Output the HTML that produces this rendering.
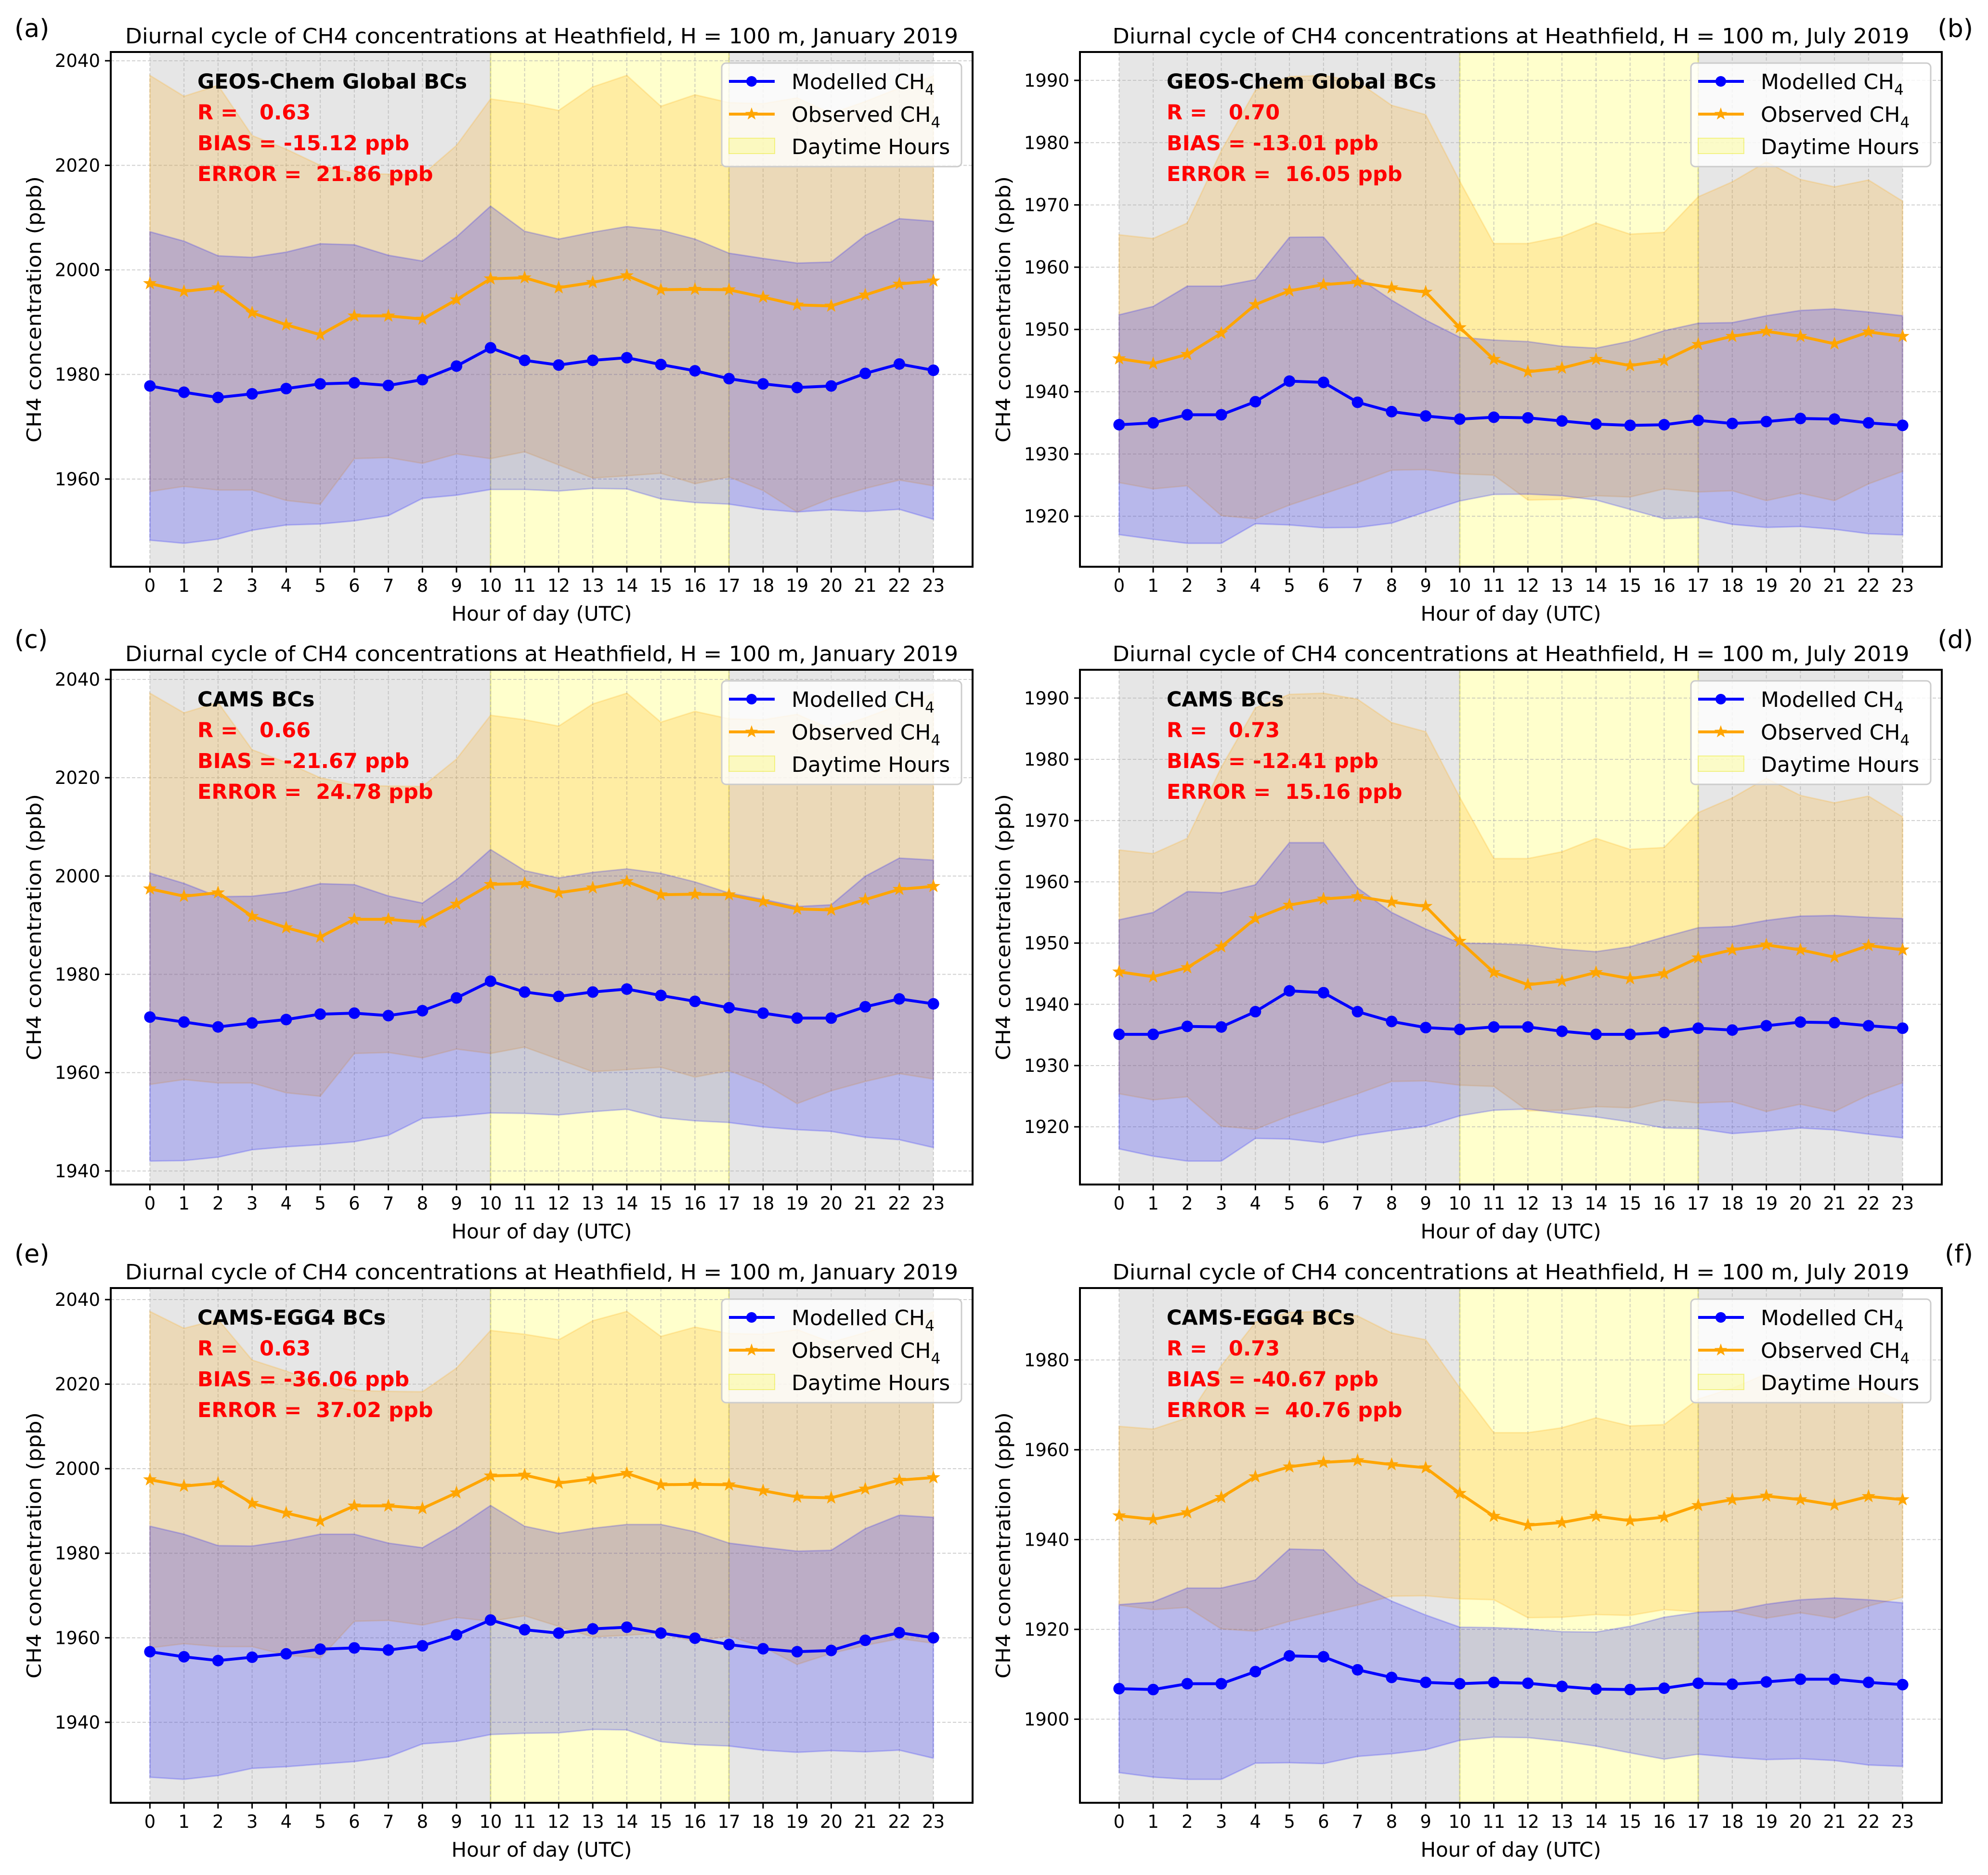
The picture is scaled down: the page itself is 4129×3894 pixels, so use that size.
<!DOCTYPE html>
<html><head><meta charset="utf-8">
<style>
html,body{margin:0;padding:0;background:#fff;}
svg{display:block;font-family:"DejaVu Sans","Liberation Sans",sans-serif;}
</style></head>
<body>
<svg id="fig" xmlns="http://www.w3.org/2000/svg" width="4129" height="3894" viewBox="0 0 4129 3894">
<rect x="0" y="0" width="4129" height="3894" fill="#fff"/>
</svg>
<script>
const hours = [0,1,2,3,4,5,6,7,8,9,10,11,12,13,14,15,16,17,18,19,20,21,22,23];
const xTickLabels = ["0","1","2","3","4","5","6","7","8","9","10","11","12","13","14","15","16","17","18","19","20","21","22","23"];
// January observed
const janObsMean = [1997.4,1995.9,1996.6,1991.8,1989.5,1987.6,1991.2,1991.2,1990.6,1994.3,1998.3,1998.5,1996.6,1997.6,1998.9,1996.2,1996.3,1996.2,1994.8,1993.3,1993.1,1995.2,1997.3,1997.9];
const janObsStd = [39.8,37.3,38.7,33.9,33.6,32.4,27.3,27.1,27.6,29.5,34.4,33.3,33.9,37.4,38.3,35.1,37.2,35.8,37.0,39.6,36.8,37.0,37.5,39.2];
// July observed
const julObsMean = [1945.3,1944.5,1946.0,1949.4,1954.0,1956.2,1957.2,1957.6,1956.7,1956.0,1950.3,1945.2,1943.2,1943.8,1945.2,1944.2,1945.0,1947.6,1948.9,1949.7,1948.9,1947.7,1949.6,1948.9];
const julObsStd = [19.9,20.1,21.1,29.3,34.4,34.4,33.6,32.2,29.3,28.5,23.5,18.6,20.6,21.1,21.9,21.1,20.6,23.7,24.8,27.2,25.2,25.2,24.4,21.7];
// (a) GEOS-Chem January
const modelMeanA = [1977.8,1976.6,1975.6,1976.3,1977.3,1978.2,1978.4,1977.9,1979.0,1981.6,1985.1,1982.7,1981.8,1982.7,1983.2,1981.9,1980.7,1979.2,1978.2,1977.5,1977.8,1980.2,1982.0,1980.8];
const modelStdA = [29.5,28.9,27.1,26.1,26.1,26.8,26.4,24.9,22.7,24.7,27.1,24.7,24.1,24.5,25.1,25.7,25.2,24.0,24.0,23.8,23.7,26.4,27.8,28.5];
// (b) GEOS-Chem July
const modelMeanB = [1934.7,1935.0,1936.3,1936.3,1938.4,1941.7,1941.5,1938.3,1936.8,1936.1,1935.6,1935.9,1935.8,1935.3,1934.8,1934.6,1934.7,1935.4,1934.9,1935.2,1935.7,1935.6,1935.0,1934.6];
const modelStdB = [17.65,18.7,20.65,20.65,19.6,23.1,23.35,20.1,17.9,15.4,13.15,12.4,12.25,12.0,12.2,13.5,15.1,15.6,16.2,17.0,17.35,17.7,17.8,17.6];
// (c) CAMS January
const modelMeanC = [1971.3,1970.3,1969.3,1970.1,1970.8,1971.9,1972.1,1971.6,1972.6,1975.2,1978.6,1976.4,1975.5,1976.4,1977.0,1975.7,1974.5,1973.2,1972.1,1971.1,1971.1,1973.4,1975.0,1974.0];
const modelStdC = [29.3,28.2,26.5,25.8,25.9,26.55,26.15,24.35,21.9,24.05,26.8,24.7,24.1,24.35,24.45,24.85,24.3,23.35,23.15,22.7,23.05,26.55,28.65,29.25];
// (d) CAMS July
const modelMeanD = [1935.1,1935.1,1936.4,1936.3,1938.8,1942.2,1941.9,1938.8,1937.2,1936.2,1935.9,1936.3,1936.3,1935.6,1935.1,1935.1,1935.4,1936.1,1935.8,1936.5,1937.1,1937.0,1936.5,1936.1];
const modelStdD = [18.7,19.9,22.0,21.9,20.7,24.2,24.5,20.2,17.8,16.1,14.1,13.6,13.4,13.4,13.5,14.3,15.6,16.4,16.9,17.2,17.3,17.5,17.7,17.9];
// (e) CAMS-EGG4 January
const modelMeanE = [1956.7,1955.5,1954.6,1955.4,1956.2,1957.3,1957.6,1957.1,1958.1,1960.7,1964.2,1961.9,1961.1,1962.1,1962.5,1961.1,1959.9,1958.4,1957.4,1956.7,1957.0,1959.4,1961.2,1960.0];
const modelStdE = [29.7,29.0,27.2,26.3,26.7,27.2,26.9,25.3,23.2,25.2,27.1,24.5,23.6,23.8,24.3,25.7,25.2,24.0,24.0,23.8,23.7,26.4,27.8,28.5];
// (f) CAMS-EGG4 July
const modelMeanF = [1906.8,1906.6,1907.9,1907.9,1910.6,1914.1,1913.9,1911.0,1909.3,1908.2,1907.9,1908.2,1908.0,1907.3,1906.7,1906.6,1906.9,1908.0,1907.8,1908.3,1908.9,1908.9,1908.2,1907.7];
const modelStdF = [18.7,19.5,21.3,21.3,20.4,23.8,23.8,19.3,17.0,15.0,12.6,12.2,12.1,12.2,12.7,14.1,15.8,15.8,16.3,17.3,17.7,18.1,18.4,18.2];
// statistics text
const panelLabels = ["(a)","(b)","(c)","(d)","(e)","(f)"];
const bcNames = ["GEOS-Chem Global BCs","GEOS-Chem Global BCs","CAMS BCs","CAMS BCs","CAMS-EGG4 BCs","CAMS-EGG4 BCs"];
const rValues = ["0.63","0.70","0.66","0.73","0.63","0.73"];
const biasValues = ["-15.12","-13.01","-21.67","-12.41","-36.06","-40.67"];
const errorValues = ["21.86","16.05","24.78","15.16","37.02","40.76"];
const months = ["January","July","January","July","January","July"];
const yTickSteps = [20,10,20,10,20,20];
const dayStart = 10, dayEnd = 17;

const NS = "http://www.w3.org/2000/svg";
const fig = document.getElementById('fig');
function mk(parent, tag, attrs, text){
  const e = document.createElementNS(NS, tag);
  for (const k in attrs) e.setAttribute(k, attrs[k]);
  if (text !== undefined) e.textContent = text;
  parent.appendChild(e);
  return e;
}
function starPath(cx, cy, R){
  const r = R*0.4; let d = "";
  for (let i=0;i<10;i++){
    const a = -Math.PI/2 + i*Math.PI/5;
    const rr = i%2===0 ? R : r;
    d += (i===0?"M":"L") + (cx+rr*Math.cos(a)).toFixed(1) + "," + (cy+rr*Math.sin(a)).toFixed(1);
  }
  return d + "Z";
}

const colX = [230, 2243];
const rowY = [108, 1391, 2675];
const axW = 1790, axH = 1069;
const panels = [
  {obsM: janObsMean, obsS: janObsStd, modM: modelMeanA, modS: modelStdA},
  {obsM: julObsMean, obsS: julObsStd, modM: modelMeanB, modS: modelStdB},
  {obsM: janObsMean, obsS: janObsStd, modM: modelMeanC, modS: modelStdC},
  {obsM: julObsMean, obsS: julObsStd, modM: modelMeanD, modS: modelStdD},
  {obsM: janObsMean, obsS: janObsStd, modM: modelMeanE, modS: modelStdE},
  {obsM: julObsMean, obsS: julObsStd, modM: modelMeanF, modS: modelStdF}
];
const NB = "\u00a0";

panels.forEach((p, idx) => {
  const col = idx % 2, row = Math.floor(idx/2);
  const L = colX[col], T = rowY[row], R = L+axW, B = T+axH;
  const g = mk(fig, 'g', {});
  
  

  const obsU = p.obsM.map((m,i)=>m+p.obsS[i]), obsL = p.obsM.map((m,i)=>m-p.obsS[i]);
  const modU = p.modM.map((m,i)=>m+p.modS[i]), modL = p.modM.map((m,i)=>m-p.modS[i]);
  const all = obsU.concat(obsL, modU, modL);
  let ymin = Math.min(...all), ymax = Math.max(...all);
  const mg = (ymax-ymin)*0.05; ymin -= mg; ymax += mg;
  const x0 = -1.15, x1 = 24.15;
  const X = v => L + (v - x0)/(x1 - x0)*axW;
  const Y = v => B - (v - ymin)/(ymax - ymin)*axH;

  const clipId = 'clip'+idx;
  const cp = mk(g, 'clipPath', {id: clipId});
  mk(cp, 'rect', {x:L, y:T, width:axW, height:axH});
  const inner = mk(g, 'g', {'clip-path':'url(#'+clipId+')'});
  
  

  const n1 = mk(inner, 'rect', {x:X(hours[0]), y:T, width:X(dayStart)-X(hours[0]), height:axH, fill:'rgba(128,128,128,0.2)'});
  
  
  const n2 = mk(inner, 'rect', {x:X(dayEnd), y:T, width:X(hours[23])-X(dayEnd), height:axH, fill:'rgba(128,128,128,0.2)'});
  
  
  const dsp = mk(inner, 'rect', {x:X(dayStart), y:T, width:X(dayEnd)-X(dayStart), height:axH, fill:'rgba(255,255,0,0.2)', stroke:'rgba(200,200,0,0.35)', 'stroke-width':3});
  
  

  const step = yTickSteps[idx];
  const yt = [];
  for (let v = Math.ceil(ymin/step)*step; v <= ymax; v += step) yt.push(v);

  hours.forEach(h => {
    const gl = mk(inner, 'line', {x1:X(h), x2:X(h), y1:T, y2:B, stroke:'#b0b0b0', 'stroke-opacity':0.6, 'stroke-width':2, 'stroke-dasharray':'7,4'});
    
    
  });
  yt.forEach(v => {
    const gl = mk(inner, 'line', {x1:L, x2:R, y1:Y(v), y2:Y(v), stroke:'#b0b0b0', 'stroke-opacity':0.6, 'stroke-width':2, 'stroke-dasharray':'7,4'});
    
    
  });

  function band(up, lo, color, name){
    let d = "";
    hours.forEach((h,i)=>{ d += (i===0?"M":"L") + X(h).toFixed(1) + "," + Y(up[i]).toFixed(1); });
    for (let i=hours.length-1;i>=0;i--) d += "L" + X(hours[i]).toFixed(1) + "," + Y(lo[i]).toFixed(1);
    const e = mk(inner, 'path', {d: d+"Z", fill:color, 'fill-opacity':0.2, stroke:color, 'stroke-opacity':0.2, 'stroke-width':3});
    
    
  }
  band(obsU, obsL, 'rgb(255,165,0)', 'observed-std-band');
  band(modU, modL, 'rgb(0,0,255)', 'modelled-std-band');

  const op = hours.map((h,i)=>X(h).toFixed(1)+","+Y(p.obsM[i]).toFixed(1)).join(" ");
  const ol = mk(inner, 'polyline', {points:op, fill:'none', stroke:'#ffa500', 'stroke-width':6, 'stroke-linejoin':'round'});
  
  
  hours.forEach((h,i)=>{
    const s = mk(inner, 'path', {d: starPath(X(h), Y(p.obsM[i]), 15), fill:'#ffa500'});
    
    
  });
  const mp = hours.map((h,i)=>X(h).toFixed(1)+","+Y(p.modM[i]).toFixed(1)).join(" ");
  const ml = mk(inner, 'polyline', {points:mp, fill:'none', stroke:'#0000ff', 'stroke-width':6, 'stroke-linejoin':'round'});
  
  
  hours.forEach((h,i)=>{
    const c = mk(inner, 'circle', {cx:X(h), cy:Y(p.modM[i]), r:12, fill:'#0000ff'});
    
    
  });

  const sp = mk(g, 'rect', {x:L, y:T, width:axW, height:axH, fill:'none', stroke:'#000', 'stroke-width':4});
  
  

  hours.forEach((h,i)=>{
    const tk = mk(g, 'line', {x1:X(h), x2:X(h), y1:B, y2:B+12, stroke:'#000', 'stroke-width':3});
    
    
    const tl = mk(g, 'text', {x:X(h), y:B+52, 'font-size':37, 'text-anchor':'middle', fill:'#000'}, xTickLabels[i]);
    
    
  });
  yt.forEach(v=>{
    const tk = mk(g, 'line', {x1:L-12, x2:L, y1:Y(v), y2:Y(v), stroke:'#000', 'stroke-width':3});
    
    
    const tl = mk(g, 'text', {x:L-22, y:Y(v)+13, 'font-size':37, 'text-anchor':'end', fill:'#000'}, String(v));
    
    
  });

  const xl = mk(g, 'text', {x:(L+R)/2, y:B+112, 'font-size':42, 'text-anchor':'middle', fill:'#000'}, 'Hour of day (UTC)');
  
  
  const ylx = L - 145, yly = (T+B)/2;
  const yl = mk(g, 'text', {x:ylx, y:yly, 'font-size':41, 'text-anchor':'middle', fill:'#000', transform:'rotate(-90 '+ylx+' '+yly+')', textLength:553, lengthAdjust:'spacingAndGlyphs'}, 'CH4 concentration (ppb)');
  
  

  const tt = mk(g, 'text', {x:(L+R)/2, y:T-18, 'font-size':44, 'text-anchor':'middle', fill:'#000', textLength: months[idx]==='January' ? 1730 : 1655, lengthAdjust:'spacingAndGlyphs'}, 'Diurnal cycle of CH4 concentrations at Heathfield, H = 100 m, ' + months[idx] + ' 2019');
  
  

  const plY = [77, 1346, 2622][row];
  const pl = mk(g, 'text', {x: col===0 ? 30 : 4098, y: plY, 'font-size':52, 'text-anchor': col===0 ? 'start' : 'end', fill:'#000'}, panelLabels[idx]);
  
  

  const ax = L + 180;
  const a1 = mk(g, 'text', {x:ax, y:T+76, 'font-size':43, 'font-weight':'bold', fill:'#000'}, bcNames[idx]);
  
  
  const a2 = mk(g, 'text', {x:ax, y:T+140, 'font-size':43, 'font-weight':'bold', fill:'#ff0000'}, 'R =' + NB + NB + NB + rValues[idx]);
  
  
  const a3 = mk(g, 'text', {x:ax, y:T+204, 'font-size':43, 'font-weight':'bold', fill:'#ff0000'}, 'BIAS = ' + biasValues[idx] + ' ppb');
  
  
  const a4 = mk(g, 'text', {x:ax, y:T+268, 'font-size':43, 'font-weight':'bold', fill:'#ff0000'}, 'ERROR =' + NB + NB + errorValues[idx] + ' ppb');
  
  

  const lx = R - 521, ly = T + 23;
  const lg = mk(g, 'g', {});
  
  
  mk(lg, 'rect', {x:lx, y:ly, width:498, height:215, rx:9, fill:'rgba(255,255,255,0.8)', stroke:'#cccccc', 'stroke-width':3});
  const e1 = mk(lg, 'g', {});
  
  
  mk(e1, 'line', {x1:lx+15, x2:lx+110, y1:ly+38, y2:ly+38, stroke:'#0000ff', 'stroke-width':6});
  mk(e1, 'circle', {cx:lx+62, cy:ly+38, r:11, fill:'#0000ff'});
  const t1 = mk(e1, 'text', {x:lx+145, y:ly+54, 'font-size':44, fill:'#000'}, 'Modelled CH');
  mk(t1, 'tspan', {dy:12, 'font-size':31}, '4');
  const e2 = mk(lg, 'g', {});
  
  
  mk(e2, 'line', {x1:lx+15, x2:lx+110, y1:ly+106, y2:ly+106, stroke:'#ffa500', 'stroke-width':6});
  mk(e2, 'path', {d:starPath(lx+62, ly+106, 14), fill:'#ffa500'});
  const t2 = mk(e2, 'text', {x:lx+145, y:ly+122, 'font-size':44, fill:'#000'}, 'Observed CH');
  mk(t2, 'tspan', {dy:12, 'font-size':31}, '4');
  const e3 = mk(lg, 'g', {});
  
  
  mk(e3, 'rect', {x:lx+15, y:ly+156, width:95, height:32, fill:'rgba(255,255,0,0.2)', stroke:'rgba(230,230,0,0.4)', 'stroke-width':2});
  mk(e3, 'text', {x:lx+145, y:ly+189, 'font-size':44, fill:'#000'}, 'Daytime Hours');
});
</script>
</body></html>
